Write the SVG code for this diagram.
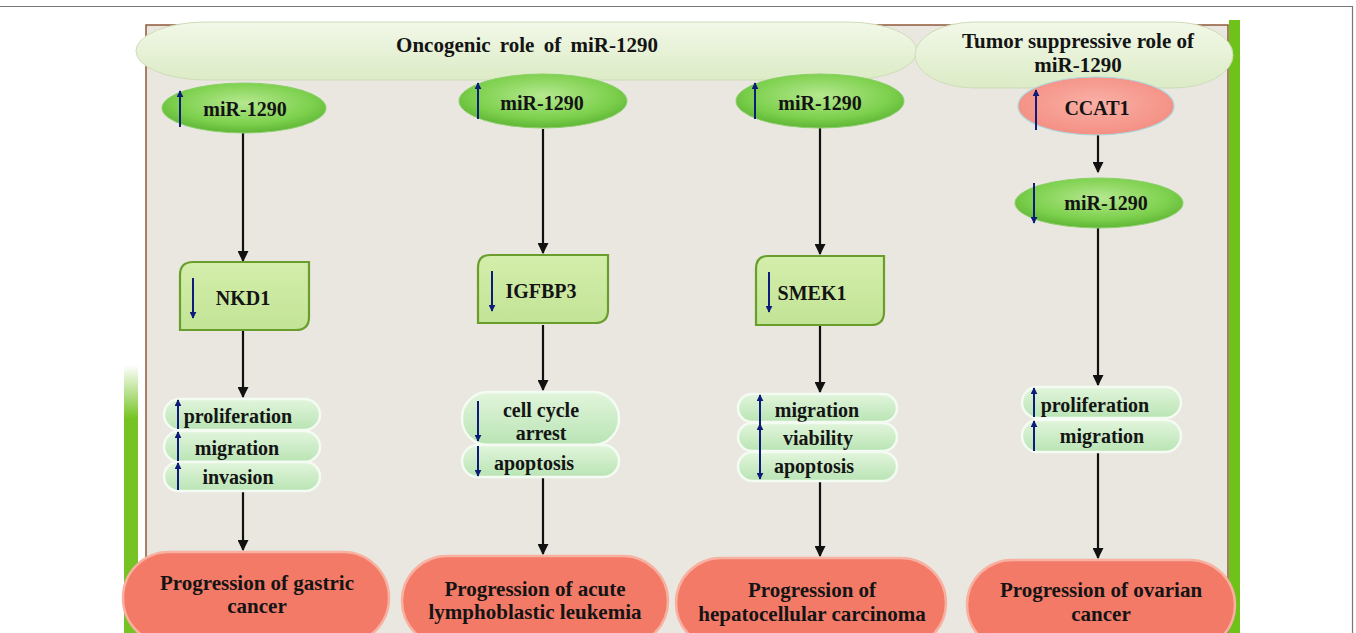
<svg xmlns="http://www.w3.org/2000/svg" width="1356" height="633" viewBox="0 0 1356 633">
<defs>
<radialGradient id="gMir" cx="0.5" cy="0.4" r="0.6">
<stop offset="0" stop-color="#b6e890"/><stop offset="0.7" stop-color="#7cd04c"/><stop offset="1" stop-color="#5fb536"/>
</radialGradient>
<radialGradient id="gPink" cx="0.5" cy="0.45" r="0.6">
<stop offset="0" stop-color="#f9b0a6"/><stop offset="1" stop-color="#f48c80"/>
</radialGradient>
<linearGradient id="gHead" x1="0" y1="0" x2="0" y2="1">
<stop offset="0" stop-color="#f2f8e8"/><stop offset="1" stop-color="#dcebc6"/>
</linearGradient>
<linearGradient id="gPill" x1="0" y1="0" x2="0" y2="1">
<stop offset="0" stop-color="#e2f5dc"/><stop offset="1" stop-color="#b9e4b4"/>
</linearGradient>
<linearGradient id="gBox" x1="0" y1="0" x2="0" y2="1">
<stop offset="0" stop-color="#d4eeab"/><stop offset="1" stop-color="#c2e496"/>
</linearGradient>
<linearGradient id="gLeft" x1="0" y1="0" x2="0" y2="1">
<stop offset="0" stop-color="#76c424" stop-opacity="0"/><stop offset="0.2" stop-color="#76c424"/><stop offset="1" stop-color="#76c424"/>
</linearGradient>
<marker id="ah" viewBox="0 0 10 10" refX="9" refY="5" markerWidth="5" markerHeight="5" orient="auto">
<path d="M0,0 L10,5 L0,10 z" fill="#111"/>
</marker>
<marker id="bh" viewBox="0 0 10 10" refX="9" refY="5" markerWidth="3.5" markerHeight="3.5" orient="auto">
<path d="M0,0 L10,5 L0,10 z" fill="#0d1b7a"/>
</marker>
</defs>
<style>
text{font-family:"Liberation Serif","Times New Roman",serif;font-weight:bold;fill:#141414;text-anchor:middle}
.lbl{font-size:20px}
.big{font-size:21px}
.hd{font-size:21px}
.mir{fill:url(#gMir);stroke:#8ccf6a;stroke-width:1}
.pill{fill:url(#gPill);stroke:#f4fbf2;stroke-width:2.5}
.prog{fill:#f47a68;stroke:#f8b0a0;stroke-width:2.5}
.box{fill:url(#gBox);stroke:#6a9e2c;stroke-width:2.2}
.con{stroke:#111;stroke-width:2.2;fill:none;marker-end:url(#ah)}
.ba{stroke:#0d1b7a;stroke-width:2;fill:none;marker-end:url(#bh)}
.head{fill:url(#gHead);stroke:#cfdcb8;stroke-width:1}
</style>
<rect width="1356" height="633" fill="#ffffff"/>
<path d="M0,6.5 H1352.5 V640" fill="none" stroke="#777" stroke-width="1.2"/>
<g id="frame">
<rect x="124" y="365" width="14" height="268" fill="url(#gLeft)"/>
<rect x="1229" y="20" width="11" height="613" fill="#6fc21a"/>
<rect x="146" y="25" width="1082" height="620" fill="#e9e7df" stroke="#8e5a3a" stroke-width="1.5"/>
</g>
<g id="header-oncogenic">
<rect x="136" y="22" width="781" height="58" rx="70" ry="29" class="head"/>
<text x="527" y="52" class="hd" word-spacing="4">Oncogenic role of miR-1290</text>
</g>
<g id="header-suppressive">
<rect x="915" y="22" width="318" height="66" rx="60" ry="33" class="head"/>
<text x="1078" y="48" class="hd">Tumor suppressive role of</text>
<text x="1078" y="72" class="hd">miR-1290</text>
</g>
<g id="connectors">
<line x1="243" y1="133" x2="243" y2="261" class="con"/>
<line x1="243" y1="331" x2="243" y2="397" class="con"/>
<line x1="243" y1="491" x2="243" y2="550" class="con"/>
<line x1="543" y1="129" x2="543" y2="253" class="con"/>
<line x1="543" y1="325" x2="543" y2="390" class="con"/>
<line x1="543" y1="477" x2="543" y2="554" class="con"/>
<line x1="820" y1="128" x2="820" y2="254" class="con"/>
<line x1="820" y1="326" x2="820" y2="392" class="con"/>
<line x1="820" y1="481" x2="820" y2="556" class="con"/>
<line x1="1098" y1="135" x2="1098" y2="172" class="con"/>
<line x1="1098" y1="228" x2="1098" y2="385" class="con"/>
<line x1="1098" y1="452" x2="1098" y2="558" class="con"/>
</g>
<g id="mir1">
<ellipse cx="244" cy="108" rx="82" ry="25" class="mir"/>
<text x="245" y="116" class="lbl">miR-1290</text>
<line x1="180" y1="127" x2="180" y2="91" class="ba"/>
</g>
<g id="mir2">
<ellipse cx="543" cy="101" rx="84" ry="27" class="mir"/>
<text x="542" y="110" class="lbl">miR-1290</text>
<line x1="478" y1="119" x2="478" y2="83" class="ba"/>
</g>
<g id="mir3">
<ellipse cx="820" cy="101" rx="84" ry="27" class="mir"/>
<text x="820" y="110" class="lbl">miR-1290</text>
<line x1="755" y1="119" x2="755" y2="83" class="ba"/>
</g>
<g id="ccat1">
<ellipse cx="1096" cy="106" rx="78" ry="29" fill="url(#gPink)" stroke="#a9d8e0" stroke-width="1.2"/>
<text x="1097" y="115" class="lbl">CCAT1</text>
<line x1="1036" y1="130" x2="1036" y2="90" class="ba"/>
</g>
<g id="mir4">
<ellipse cx="1099" cy="203" rx="84" ry="25" class="mir"/>
<text x="1106" y="210" class="lbl">miR-1290</text>
<line x1="1034" y1="183" x2="1034" y2="223" class="ba"/>
</g>
<g id="nkd1">
<path d="M193,262 H309 V317 Q309,330 296,330 H180 V275 Q180,262 193,262 Z" class="box"/>
<text x="243" y="305" class="lbl">NKD1</text>
<line x1="193" y1="278" x2="193" y2="318" class="ba"/>
</g>
<g id="igfbp3">
<path d="M490,255 H608 V310 Q608,323 595,323 H478 V268 Q478,255 490,255 Z" class="box"/>
<text x="541" y="298" class="lbl">IGFBP3</text>
<line x1="492" y1="271" x2="492" y2="311" class="ba"/>
</g>
<g id="smek1">
<path d="M768,256 H884 V312 Q884,325 871,325 H756 V269 Q756,256 768,256 Z" class="box"/>
<text x="812" y="300" class="lbl">SMEK1</text>
<line x1="769" y1="272" x2="769" y2="312" class="ba"/>
</g>
<g id="effects1">
<rect x="164" y="399" width="156" height="31" rx="15.5" class="pill"/>
<text x="238" y="423" class="lbl">proliferation</text>
<rect x="164" y="431" width="156" height="31" rx="15.5" class="pill"/>
<text x="237" y="455" class="lbl">migration</text>
<rect x="164" y="462" width="156" height="29" rx="14.5" class="pill"/>
<text x="238" y="484" class="lbl">invasion</text>
<line x1="178" y1="429" x2="178" y2="400" class="ba"/>
<line x1="178" y1="461" x2="178" y2="432" class="ba"/>
<line x1="178" y1="490" x2="178" y2="463" class="ba"/>
</g>
<g id="effects2">
<rect x="462" y="392" width="157" height="53" rx="26" class="pill"/>
<text x="541" y="417" class="lbl">cell cycle</text>
<text x="541" y="440" class="lbl">arrest</text>
<rect x="462" y="445" width="157" height="32" rx="16" class="pill"/>
<text x="534" y="470" class="lbl">apoptosis</text>
<line x1="478" y1="401" x2="478" y2="441" class="ba"/>
<line x1="478" y1="446" x2="478" y2="476" class="ba"/>
</g>
<g id="effects3">
<rect x="738" y="394" width="159" height="28" rx="14" class="pill"/>
<text x="817" y="417" class="lbl">migration</text>
<rect x="738" y="423" width="159" height="28" rx="14" class="pill"/>
<text x="818" y="445" class="lbl">viability</text>
<rect x="738" y="452" width="159" height="29" rx="14.5" class="pill"/>
<text x="814" y="473" class="lbl">apoptosis</text>
<line x1="760" y1="426" x2="760" y2="395" class="ba"/>
<line x1="760" y1="440" x2="760" y2="424" class="ba"/>
<line x1="760" y1="430" x2="760" y2="479" class="ba"/>
</g>
<g id="effects4">
<rect x="1022" y="387" width="159" height="31" rx="15.5" class="pill"/>
<text x="1095" y="412" class="lbl">proliferation</text>
<rect x="1022" y="420" width="159" height="32" rx="16" class="pill"/>
<text x="1102" y="443" class="lbl">migration</text>
<line x1="1034" y1="417" x2="1034" y2="388" class="ba"/>
<line x1="1034" y1="451" x2="1034" y2="421" class="ba"/>
</g>
<g id="prog-gastric">
<rect x="123" y="552" width="266" height="92" rx="46" class="prog"/>
<text x="257" y="590" class="big">Progression of gastric</text>
<text x="257" y="613" class="big">cancer</text>
</g>
<g id="prog-all">
<rect x="402" y="556" width="266" height="90" rx="45" class="prog"/>
<text x="535" y="596" class="big">Progression of acute</text>
<text x="535" y="619" class="big">lymphoblastic leukemia</text>
</g>
<g id="prog-hcc">
<rect x="676" y="558" width="270" height="90" rx="45" class="prog"/>
<text x="812" y="597" class="big">Progression of</text>
<text x="812" y="621" class="big">hepatocellular carcinoma</text>
</g>
<g id="prog-ovarian">
<rect x="967" y="560" width="268" height="90" rx="45" class="prog"/>
<text x="1101" y="597" class="big">Progression of ovarian</text>
<text x="1101" y="621" class="big">cancer</text>
</g>
</svg>
